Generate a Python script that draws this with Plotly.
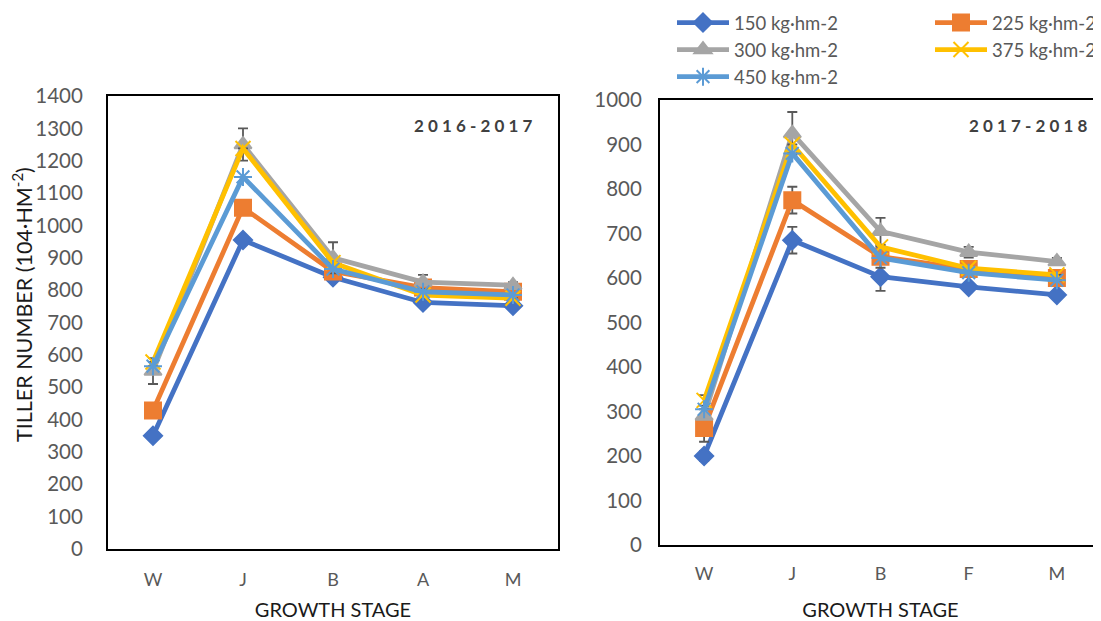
import plotly.graph_objects as go

# ---- data ----
stages_1 = ["W", "J", "B", "A", "M"]
stages_2 = ["W", "J", "B", "F", "M"]
series_names = ["150 kg·hm-2", "225 kg·hm-2", "300 kg·hm-2", "375 kg·hm-2", "450 kg·hm-2"]

# 2016-2017 tiller number
y1_150 = [350, 955, 840, 762, 752]
y1_225 = [428, 1055, 858, 808, 795]
y1_300 = [550, 1250, 900, 825, 815]
y1_375 = [578, 1238, 885, 785, 775]
y1_450 = [565, 1150, 865, 795, 785]
# error (standard deviation)
e1_150 = [0, 0, 0, 0, 0]
e1_225 = [0, 0, 0, 0, 0]
e1_300 = [40, 50, 48, 22, 10]
e1_375 = [0, 0, 0, 0, 0]
e1_450 = [0, 0, 0, 0, 0]

# 2017-2018 tiller number
y2_150 = [200, 685, 603, 580, 562]
y2_225 = [263, 775, 648, 620, 600]
y2_300 = [290, 925, 705, 658, 637]
y2_375 = [325, 900, 670, 622, 607]
y2_450 = [305, 880, 645, 612, 595]
e2_150 = [11, 30, 32, 0, 0]
e2_225 = [31, 30, 25, 0, 0]
e2_300 = [0, 48, 30, 12, 8]
e2_375 = [12, 0, 0, 0, 0]
e2_450 = [0, 0, 0, 0, 0]

colors = ["#4472C4", "#ED7D31", "#A5A5A5", "#FFC000", "#5B9BD5"]
symbols = ["diamond", "square", "triangle-up", "x-thin-open", "asterisk-open"]
msizes = [14, 16, 15, 15, 15]
legends = ["legend", "legend2", "legend", "legend2", "legend"]

Y1 = [y1_150, y1_225, y1_300, y1_375, y1_450]
E1 = [e1_150, e1_225, e1_300, e1_375, e1_450]
Y2 = [y2_150, y2_225, y2_300, y2_375, y2_450]
E2 = [e2_150, e2_225, e2_300, e2_375, e2_450]

# page body has an 8px margin; size the figure so it fits the 1101x621 window
OFF = 8
W, H = 1101 - OFF, 621 - OFF
FONT = "Lato"


def px(x):
    return (x - OFF) / W


def py(y):
    return 1 - (y - OFF) / H


fig = go.Figure()


def add_series(x, y, e, i, xa, ya, show):
    fig.add_trace(go.Scatter(
        x=x, y=y, xaxis=xa, yaxis=ya, mode="lines+markers",
        name=series_names[i], showlegend=show, legend=legends[i],
        line=dict(color=colors[i], width=4.8),
        marker=dict(symbol=symbols[i], size=msizes[i], color=colors[i],
                    line=dict(color=colors[i], width=2)),
        error_y=dict(type="data", array=e, visible=True, color="#595959",
                     thickness=1.8, width=5),
    ))


for i in range(5):
    add_series(stages_1, Y1[i], E1[i], i, "x", "y", True)
for i in range(5):
    add_series(stages_2, Y2[i], E2[i], i, "x2", "y2", False)

axis_common = dict(showgrid=False, zeroline=False, showline=True, automargin=False,
                   linecolor="black", linewidth=2, ticks="")

fig.update_layout(
    width=W, height=H,
    margin=dict(l=0, r=0, t=0, b=0, autoexpand=False),
    paper_bgcolor="white", plot_bgcolor="white",
    font=dict(family=FONT, color="#595959"),
    xaxis=dict(domain=[px(108), px(558)], anchor="y", type="category",
               categoryorder="array", categoryarray=stages_1,
               range=[-0.5, 4.5], mirror=True,
               tickfont=dict(size=18, color="#595959"), ticklabelstandoff=13,
               title=dict(text="GROWTH STAGE", font=dict(size=20, color="#1a1a1a"), standoff=14),
               **axis_common),
    yaxis=dict(domain=[py(549), py(96)], anchor="x", range=[0, 1400], dtick=100,
               mirror=True, tickfont=dict(size=20.5, color="#595959"), ticklabelstandoff=19,
               **axis_common),
    xaxis2=dict(domain=[px(660), 1.0], anchor="y2", type="category",
                categoryorder="array", categoryarray=stages_2,
                range=[-0.5, 4.5], mirror=True,
                tickfont=dict(size=18, color="#595959"), ticklabelstandoff=11,
                title=dict(text="GROWTH STAGE", font=dict(size=20, color="#1a1a1a"), standoff=22),
                **axis_common),
    yaxis2=dict(domain=[py(545), py(100)], anchor="x2", range=[0, 1000], dtick=100,
                mirror=False, tickfont=dict(size=20.5, color="#595959"), ticklabelstandoff=12,
                **axis_common),
    legend=dict(x=px(672), y=py(4), xref="paper", yref="paper",
                xanchor="left", yanchor="top", orientation="v",
                font=dict(size=18.5, color="#595959"), itemwidth=52,
                bgcolor="rgba(0,0,0,0)", tracegroupgap=0),
    legend2=dict(x=px(930), y=py(4), xref="paper", yref="paper",
                 xanchor="left", yanchor="top", orientation="v",
                 font=dict(size=18.5, color="#595959"), itemwidth=52,
                 bgcolor="rgba(0,0,0,0)", tracegroupgap=0),
    annotations=[
        dict(text="TILLER NUMBER (104·HM<sup>-2</sup>)", x=px(22), y=py(305),
             xref="paper", yref="paper", textangle=-90, showarrow=False,
             font=dict(size=21.5, color="#1a1a1a"), xanchor="center", yanchor="middle"),
        dict(text="<b>2 0 1 6 - 2 0 1 7</b>", x=px(534), y=py(125),
             xref="paper", yref="paper", showarrow=False, xanchor="right", yanchor="middle",
             font=dict(size=17, color="#404040")),
        dict(text="<b>2 0 1 7 - 2 0 1 8</b>", x=px(1089), y=py(125),
             xref="paper", yref="paper", showarrow=False, xanchor="right", yanchor="middle",
             font=dict(size=17, color="#404040")),
    ],
)

fig.write_html("out.html")
